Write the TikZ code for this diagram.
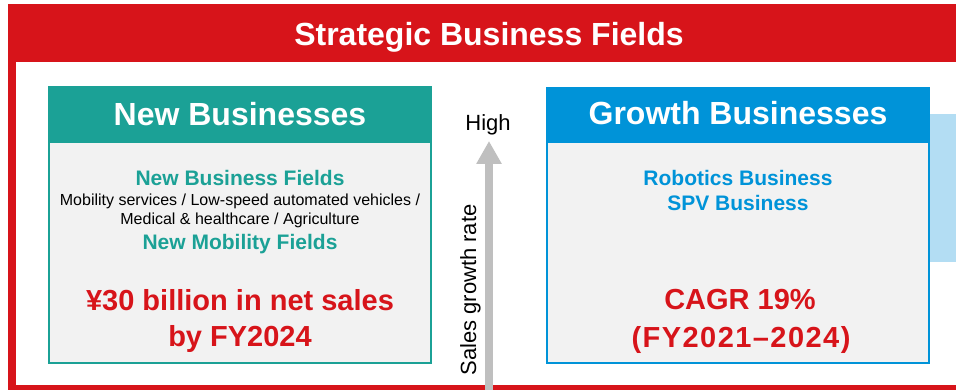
\documentclass[tikz,border=0pt]{standalone}
\usepackage{fontspec}
\setmainfont{Liberation Sans}
\usetikzlibrary{arrows.meta}
\definecolor{redC}{HTML}{D7141A}
\definecolor{tealC}{HTML}{1BA196}
\definecolor{blueC}{HTML}{0093D8}
\definecolor{skyC}{HTML}{B3DDF3}
\definecolor{greyC}{HTML}{BFBFBF}
\definecolor{paneC}{HTML}{F2F2F2}
\begin{document}
\begin{tikzpicture}[x=1pt, y=-1pt,
    head/.style={font=\fontsize{32}{38}\selectfont\bfseries, text=white, anchor=base},
    field/.style={font=\fontsize{21}{25}\selectfont\bfseries, anchor=base},
    note/.style={font=\fontsize{16}{19}\selectfont, anchor=base},
    target/.style={font=\fontsize{29}{35}\selectfont\bfseries, text=redC, anchor=base},
    axis/.style={font=\fontsize{22}{26}\selectfont, anchor=base}]
\useasboundingbox (0,0) rectangle (956,390);
% red frame
\fill[redC] (8,4) rectangle (956,390);
\fill[white] (16,62) rectangle (956,385);
\node[head] (title) at (489,46) {Strategic Business Fields};
% new businesses
\fill[tealC] (48,86) rectangle (432,142);
\draw[tealC, line width=2, fill=paneC] (49,142) rectangle (431,363);
\node[head] (newhead) at (240,126) {New Businesses};
\node[field, text=tealC] (newfields) at (240,186) {New Business Fields};
\node[note] (newlist1) at (240,206) {Mobility services / Low-speed automated vehicles /};
\node[note] (newlist2) at (240,225) {Medical \& healthcare / Agriculture};
\node[field, text=tealC] (mobfields) at (240,250) {New Mobility Fields};
\node[target] (newgoal1) at (240,310) {¥30 billion in net sales};
\node[target] (newgoal2) at (240,346) {by FY2024};
% growth businesses
\fill[skyC] (930,114) rectangle (956,262);
\fill[blueC] (546,87) rectangle (930,142);
\draw[blueC, line width=2, fill=paneC] (547,142) rectangle (929,363);
\node[head] (growhead) at (738,125) {Growth Businesses};
\node[field, text=blueC] (robot) at (738,186) {Robotics Business};
\node[field, text=blueC] (spv) at (738,211) {SPV Business};
\node[target] (growgoal1) at (740,309) {CAGR 19\%};
\node[target] (growgoal2) at (741,347) {\addfontfeatures{LetterSpace=5}(FY2021–2024)};
% axis
\coordinate (axisbot) at (489,390);
\coordinate (axistop) at (489,141);
\draw[greyC, line width=8, -{Triangle[width=24pt,length=23pt]}] (axisbot) -- (axistop);
\node[axis] (high) at (488,131) {High};
\node[axis, rotate=90] (rate) at (476,290) {Sales growth rate};
\end{tikzpicture}
\end{document}
